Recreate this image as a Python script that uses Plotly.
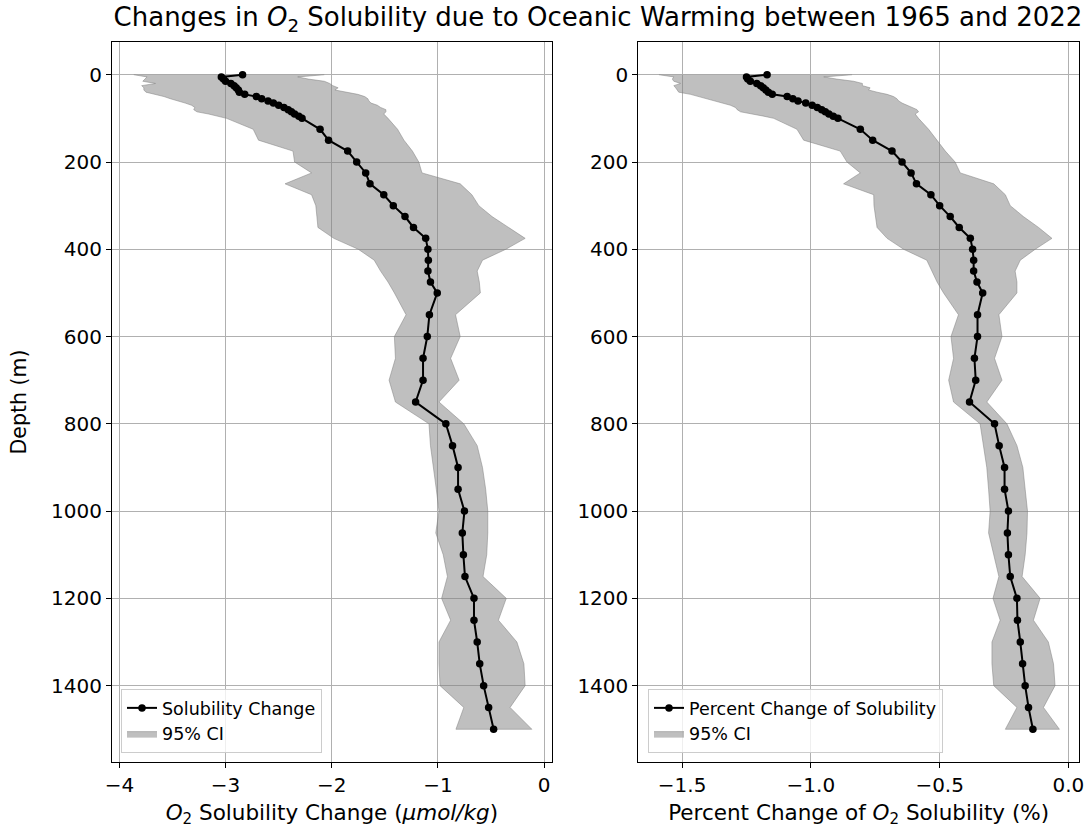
import plotly.graph_objects as go

# Standard depth levels (m)
depth = [0, 5, 10, 15, 20, 25, 30, 35, 40, 45, 50, 55, 60, 65, 70, 75, 80, 85, 90, 95,
         100, 125, 150, 175, 200, 225, 250, 275, 300, 325, 350, 375, 400, 425, 450, 475,
         500, 550, 600, 650, 700, 750, 800, 850, 900, 950, 1000, 1050, 1100, 1150, 1200,
         1250, 1300, 1350, 1400, 1450, 1500]

# O2 solubility change (umol/kg) and its 95% confidence bounds
sol_change = [-2.84, -3.04, -3.02, -3.00, -2.95, -2.92, -2.90, -2.88, -2.87, -2.82,
              -2.71, -2.66, -2.60, -2.55, -2.50, -2.45, -2.41, -2.38, -2.35, -2.31,
              -2.28, -2.11, -2.03, -1.85, -1.765, -1.68, -1.64, -1.51, -1.42, -1.31,
              -1.23, -1.115, -1.094, -1.09, -1.094, -1.07, -1.006, -1.08, -1.10, -1.14,
              -1.14, -1.21, -0.925, -0.862, -0.81, -0.81, -0.75, -0.77, -0.76, -0.745,
              -0.66, -0.66, -0.63, -0.606, -0.569, -0.522, -0.475]
sol_lo = [-3.865, -3.74, -3.76, -3.78, -3.66, -3.79, -3.77, -3.77, -3.75, -3.66,
          -3.58, -3.52, -3.44, -3.38, -3.32, -3.29, -3.30, -3.27, -3.16, -3.07,
          -2.99, -2.74, -2.69, -2.365, -2.35, -2.19, -2.44, -2.19, -2.15, -2.14,
          -2.13, -1.98, -1.75, -1.60, -1.54, -1.47, -1.41, -1.30, -1.41, -1.40,
          -1.46, -1.40, -1.084, -1.07, -1.04, -1.015, -0.99, -1.02, -0.95, -0.91,
          -0.965, -0.88, -0.99, -0.99, -0.98, -0.756, -0.83]
sol_hi = [-2.07, -2.32, -2.22, -2.07, -2.02, -1.99, -1.94, -1.97, -1.88, -1.755,
          -1.69, -1.66, -1.65, -1.63, -1.57, -1.54, -1.49, -1.49, -1.51, -1.49,
          -1.47, -1.38, -1.32, -1.24, -1.18, -1.15, -0.79, -0.68, -0.615, -0.49,
          -0.33, -0.178, -0.36, -0.58, -0.63, -0.61, -0.60, -0.834, -0.79, -0.88,
          -0.80, -0.99, -0.756, -0.63, -0.58, -0.55, -0.53, -0.53, -0.54, -0.575,
          -0.356, -0.43, -0.256, -0.19, -0.178, -0.32, -0.115]

# Percent change of O2 solubility and its 95% confidence bounds
pct_change = [-1.17, -1.25, -1.245, -1.235, -1.21, -1.195, -1.185, -1.175, -1.165, -1.15,
              -1.092, -1.07, -1.05, -1.02, -0.995, -0.975, -0.958, -0.944, -0.93, -0.913,
              -0.895, -0.808, -0.76, -0.685, -0.646, -0.611, -0.59, -0.534, -0.50, -0.459,
              -0.424, -0.381, -0.372, -0.368, -0.368, -0.355, -0.333, -0.353, -0.353, -0.365,
              -0.36, -0.384, -0.287, -0.269, -0.248, -0.248, -0.233, -0.237, -0.233, -0.226,
              -0.20, -0.198, -0.187, -0.178, -0.168, -0.155, -0.138]
pct_lo = [-1.59, -1.532, -1.538, -1.532, -1.506, -1.532, -1.525, -1.519, -1.513, -1.467,
          -1.435, -1.403, -1.377, -1.345, -1.312, -1.293, -1.286, -1.273, -1.222, -1.183,
          -1.144, -1.054, -1.028, -0.886, -0.86, -0.808, -0.873, -0.756, -0.755, -0.75,
          -0.743, -0.704, -0.64, -0.55, -0.53, -0.51, -0.485, -0.427, -0.456, -0.446,
          -0.465, -0.446, -0.343, -0.33, -0.317, -0.31, -0.304, -0.31, -0.29, -0.27,
          -0.293, -0.265, -0.297, -0.297, -0.29, -0.20, -0.245]
pct_hi = [-0.84, -0.95, -0.90, -0.834, -0.80, -0.80, -0.77, -0.776, -0.743, -0.704,
          -0.679, -0.666, -0.659, -0.646, -0.627, -0.607, -0.588, -0.582, -0.595, -0.588,
          -0.582, -0.543, -0.51, -0.478, -0.44, -0.42, -0.29, -0.245, -0.226, -0.175,
          -0.116, -0.064, -0.129, -0.187, -0.207, -0.20, -0.20, -0.27, -0.258, -0.287,
          -0.258, -0.317, -0.239, -0.20, -0.177, -0.168, -0.159, -0.161, -0.168, -0.18,
          -0.11, -0.136, -0.078, -0.058, -0.052, -0.097, -0.035]

FONT = "DejaVu Sans"
W, H = 1089, 833

fig = go.Figure()


def add_panel(xaxis, yaxis, legend, mean, lo, hi, name):
    # confidence band as a closed polygon between lower and upper bounds
    fig.add_trace(go.Scatter(
        x=list(lo) + list(hi)[::-1], y=list(depth) + list(depth)[::-1],
        fill="toself", fillcolor="rgba(128,128,128,0.5)",
        line=dict(color="rgba(128,128,128,0.5)", width=1),
        mode="lines", name="95% CI", legendrank=2,
        xaxis=xaxis, yaxis=yaxis, legend=legend, hoverinfo="skip"))
    fig.add_trace(go.Scatter(
        x=mean, y=depth, mode="lines+markers", name=name, legendrank=1,
        line=dict(color="black", width=2), marker=dict(color="black", size=7.5),
        xaxis=xaxis, yaxis=yaxis, legend=legend))


add_panel("x", "y", "legend", sol_change, sol_lo, sol_hi, "Solubility Change")
add_panel("x2", "y2", "legend2", pct_change, pct_lo, pct_hi, "Percent Change of Solubility")

axis_common = dict(
    showgrid=True, gridcolor="#b0b0b0", gridwidth=1, zeroline=False,
    showline=True, linecolor="black", linewidth=1, mirror=True,
    ticks="outside", ticklen=5, tickcolor="black", tickwidth=1,
    tickfont=dict(family=FONT, size=20, color="black"), automargin=False,
)

top_px, bot_px = 42, 762
ydom = [1 - bot_px / H, 1 - top_px / H]

legend_style = dict(yanchor="bottom", xanchor="left", y=1 - 753 / H,
                    bgcolor="rgba(255,255,255,0.8)", bordercolor="#cccccc", borderwidth=1,
                    font=dict(family=FONT, size=17.5, color="black"))

fig.update_layout(
    width=W, height=H,
    margin=dict(l=0, r=0, t=0, b=0),
    paper_bgcolor="white", plot_bgcolor="white",
    font=dict(family=FONT, color="black"),
    title=dict(
        text="Changes in <i>O</i><sub>2</sub> Solubility due to Oceanic Warming between 1965 and 2022",
        x=598 / W, xanchor="center", y=1 - 17 / H, yanchor="middle",
        xref="paper", yref="container",
        font=dict(family=FONT, size=26, color="black")),
    xaxis=dict(axis_common, domain=[112 / W, 551.7 / W], range=[-4.07, 0.072],
               dtick=1, tick0=0, anchor="y",
               title=dict(text="<i>O</i><sub>2</sub> Solubility Change (<i>μmol/kg</i>)",
                          font=dict(family=FONT, size=21.5), standoff=8)),
    yaxis=dict(axis_common, domain=ydom, range=[1575, -75], dtick=200, tick0=0,
               anchor="x",
               title=dict(text="Depth (m)", font=dict(family=FONT, size=20.5), standoff=18)),
    xaxis2=dict(axis_common, domain=[638.3 / W, 1079 / W], range=[-1.67, 0.041],
                dtick=0.5, tick0=0, tickformat=".1f", anchor="y2",
                title=dict(text="Percent Change of <i>O</i><sub>2</sub> Solubility (%)",
                           font=dict(family=FONT, size=21.5), standoff=8)),
    yaxis2=dict(axis_common, domain=ydom, range=[1575, -75], dtick=200, tick0=0,
                anchor="x2"),
    legend=dict(legend_style, x=121 / W),
    legend2=dict(legend_style, x=648 / W),
    showlegend=True,
)

fig.write_html("out.html")
